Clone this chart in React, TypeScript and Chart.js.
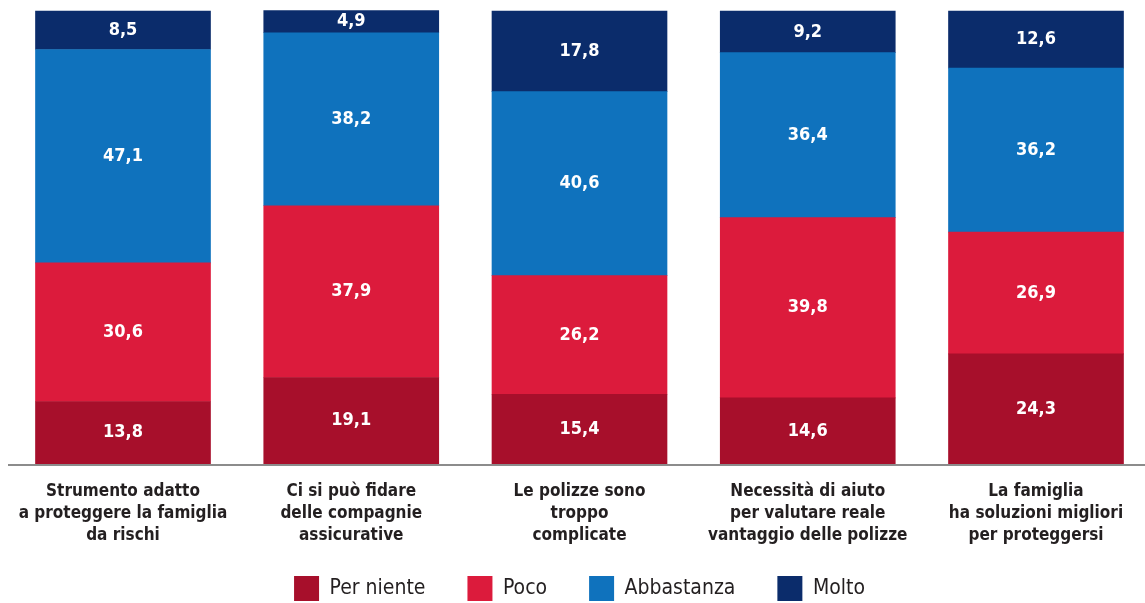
import React, { useEffect, useRef } from "react";
import { Chart, registerables } from "chart.js";

Chart.register(...registerables);

const categories: string[][] = [
  ["Strumento adatto", "a proteggere la famiglia", "da rischi"],
  ["Ci si può fidare", "delle compagnie", "assicurative"],
  ["Le polizze sono", "troppo", "complicate"],
  ["Necessità di aiuto", "per valutare reale", "vantaggio delle polizze"],
  ["La famiglia", "ha soluzioni migliori", "per proteggersi"],
];
const perNiente = [13.8, 19.1, 15.4, 14.6, 24.3];
const poco = [30.6, 37.9, 26.2, 39.8, 26.9];
const abbastanza = [47.1, 38.2, 40.6, 36.4, 36.2];
const molto = [8.5, 4.9, 17.8, 9.2, 12.6];
const seriesNames = ["Per niente", "Poco", "Abbastanza", "Molto"];
const seriesColors = ["#A70F2B", "#DC1B3C", "#0F72BD", "#0B2C6B"];

const FONT =
  "'Noto Sans Condensed', 'Liberation Sans Narrow', 'DejaVu Sans Condensed', 'Arial Narrow', sans-serif";

const valueLabels = {
  id: "valueLabels",
  afterDatasetsDraw(chart: any) {
    const ctx = chart.ctx;
    ctx.save();
    ctx.fillStyle = "#ffffff";
    ctx.font = `bold 18px ${FONT}`;
    ctx.textAlign = "center";
    ctx.textBaseline = "middle";
    chart.data.datasets.forEach((ds: any, di: number) => {
      const meta = chart.getDatasetMeta(di);
      meta.data.forEach((el: any, i: number) => {
        const v = ds.data[i] as number;
        const y = (el.y + el.base) / 2;
        ctx.fillText(v.toFixed(1).replace(".", ","), el.x, y);
      });
    });
    ctx.restore();
  },
};

const baseLine = {
  id: "baseLine",
  afterDatasetsDraw(chart: any) {
    const ctx = chart.ctx;
    const y = chart.chartArea.bottom + 1;
    ctx.save();
    ctx.strokeStyle = "#8c8c8c";
    ctx.lineWidth = 2;
    ctx.beginPath();
    ctx.moveTo(8, y);
    ctx.lineTo(chart.width, y);
    ctx.stroke();
    ctx.restore();
  },
};

export default function App() {
  const ref = useRef<HTMLCanvasElement | null>(null);

  useEffect(() => {
    if (!ref.current) return;
    const series = [perNiente, poco, abbastanza, molto];
    const chart = new Chart(ref.current, {
      type: "bar",
      data: {
        labels: categories,
        datasets: series.map((d, i) => ({
          label: seriesNames[i],
          data: d,
          backgroundColor: seriesColors[i],
          borderWidth: 0,
          barThickness: 175,
          clip: false as any,
        })),
      },
      options: {
        animation: false,
        responsive: true,
        maintainAspectRatio: false,
        layout: { padding: { top: 11, left: 123, right: 109, bottom: -8 } },
        plugins: {
          legend: {
            position: "bottom",
            labels: {
              boxWidth: 25,
              boxHeight: 25,
              padding: 42,
              color: "#231F20",
              font: { family: FONT, size: 21 },
            },
          },
          tooltip: { enabled: false },
        },
        scales: {
          x: {
            stacked: true,
            offset: false,
            grid: { display: false, drawTicks: false },
            border: { display: false },
            ticks: {
              autoSkip: false,
              maxRotation: 0,
              minRotation: 0,
              padding: 17,
              color: "#231F20",
              font: { family: FONT, size: 17, weight: "bold", lineHeight: "22px" },
            },
            afterFit: (scale: any) => {
              scale.height = 70;
              scale.paddingLeft = 0;
              scale.paddingRight = 0;
              scale._computeLabelArea = () => undefined;
            },
          },
          y: {
            stacked: true,
            display: false,
            min: 0,
            max: 100,
          },
        },
      },
      plugins: [valueLabels, baseLine],
    });
    return () => chart.destroy();
  }, []);

  return (
    <div style={{ position: "absolute", left: 0, top: 0, width: 1145, height: 603, background: "#fff" }}>
      <canvas ref={ref} />
    </div>
  );
}
